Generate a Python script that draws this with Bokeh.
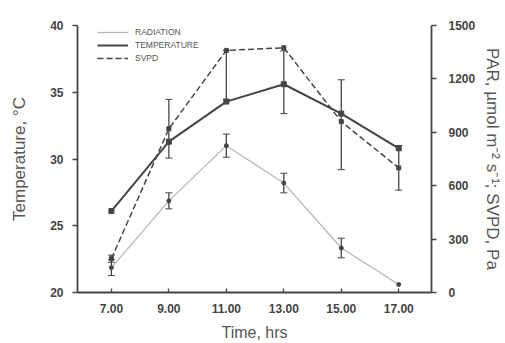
from bokeh.plotting import figure
from bokeh.models import (Range1d, LinearAxis, FixedTicker, ColumnDataSource,
                          Whisker, Legend, LegendItem)
from bokeh.embed import file_html
from bokeh.resources import INLINE

# ---- data ----
time_labels = ["7.00", "9.00", "11.00", "13.00", "15.00", "17.00"]
temperature = [26.1, 31.3, 34.3, 35.6, 33.4, 30.8]          # deg C, left axis
temp_lo = [26.1, 31.3, 34.3, 33.4, 33.4, 30.8]
temp_hi = [26.1, 31.3, 34.3, 38.1, 33.4, 30.8]
svpd = [190, 920, 1360, 1375, 960, 700]                      # Pa, right axis
svpd_lo = [170, 755, 1085, 1375, 690, 575]
svpd_hi = [210, 1085, 1360, 1375, 1195, 825]
par = [140, 515, 825, 615, 250, 45]                          # umol m-2 s-1, right axis
par_lo = [95, 470, 760, 560, 195, 45]
par_hi = [185, 560, 890, 670, 305, 45]
left_ticks = [20, 25, 30, 35, 40]
right_ticks = [0, 300, 600, 900, 1200, 1500]

x = list(range(len(time_labels)))

TXT = "#555555"
TICKTXT = "#444444"
DARK = "#454545"
LIGHT = "#b4b4b4"
FONT = "Liberation Sans"

XR = (-0.59, 5.57)
YR = (20, 40)

p = figure(width=505, height=343, output_backend="svg", toolbar_location=None,
           x_range=Range1d(*XR), y_range=Range1d(*YR),
           min_border_left=77, min_border_right=73, min_border_top=25,
           min_border_bottom=51, background_fill_color="white",
           border_fill_color="white", outline_line_color=None)
p.extra_y_ranges = {"right": Range1d(0, 1500)}

p.xgrid.visible = False
p.ygrid.visible = False


def style_axis(ax):
    ax.axis_line_color = DARK
    ax.axis_line_width = 1.8
    ax.major_tick_line_color = DARK
    ax.major_tick_line_width = 1.3
    ax.minor_tick_line_color = None
    ax.major_label_text_font = FONT
    ax.major_label_text_font_size = "12px"
    ax.major_label_text_font_style = "bold"
    ax.major_label_text_color = TICKTXT
    ax.axis_label_text_font = FONT
    ax.axis_label_text_font_style = "normal"
    ax.axis_label_text_color = TXT


style_axis(p.xaxis[0])
style_axis(p.yaxis[0])

p.xaxis.ticker = FixedTicker(ticks=x)
p.xaxis.major_label_overrides = {i: t for i, t in enumerate(time_labels)}
p.xaxis.major_tick_in = 4
p.xaxis.major_tick_out = 0
p.xaxis.major_label_standoff = 11
p.xaxis.axis_label = "Time, hrs"
p.xaxis.axis_label_text_font_size = "16px"
p.xaxis.axis_label_standoff = 8

p.yaxis.ticker = FixedTicker(ticks=left_ticks)
p.yaxis.major_tick_in = 0
p.yaxis.major_tick_out = 5
p.yaxis.major_label_standoff = 9
p.yaxis.axis_label = "Temperature, \u00b0C"
p.yaxis.axis_label_text_font_size = "17px"
p.yaxis.axis_label_standoff = 18

ra = LinearAxis(y_range_name="right", ticker=FixedTicker(ticks=right_ticks),
                axis_label="PAR, \u00b5mol m\u207b\u00b2 s\u207b\u00b9; SVPD, Pa")
style_axis(ra)
ra.major_tick_in = 0
ra.major_tick_out = 5
ra.major_label_standoff = 12
ra.axis_label_text_font_size = "17px"
ra.axis_label_standoff = 5
p.add_layout(ra, "right")

# ---- series ----
r_par = p.line(x, par, y_range_name="right", line_color=LIGHT, line_width=1.2)
p.scatter(x, par, y_range_name="right", marker="circle", size=4, color=DARK)

r_temp = p.line(x, temperature, line_color=DARK, line_width=2)
p.scatter(x, temperature, marker="square", size=5, color=DARK)

r_svpd = p.line(x, svpd, y_range_name="right", line_color=DARK, line_width=1.5,
                line_dash="6 3")
p.scatter(x, svpd, y_range_name="right", marker="square", size=4, color=DARK)


def add_err(lo, hi, rng=None):
    xs = [xi for xi, a, b in zip(x, lo, hi) if b > a]
    los = [a for a, b in zip(lo, hi) if b > a]
    his = [b for a, b in zip(lo, hi) if b > a]
    src = ColumnDataSource(dict(x=xs, lo=los, hi=his))
    w = Whisker(base="x", lower="lo", upper="hi", source=src, line_color=DARK,
                line_width=1.3, dimension="height")
    w.upper_head.size = 7
    w.lower_head.size = 7
    w.upper_head.line_color = DARK
    w.lower_head.line_color = DARK
    if rng:
        w.y_range_name = rng
    p.add_layout(w)


add_err(temp_lo, temp_hi)
add_err(svpd_lo, svpd_hi, "right")
add_err(par_lo, par_hi, "right")

legend = Legend(items=[LegendItem(label="RADIATION", renderers=[r_par]),
                       LegendItem(label="TEMPERATURE", renderers=[r_temp]),
                       LegendItem(label="SVPD", renderers=[r_svpd])],
                location=(20, 229), border_line_color=None,
                background_fill_alpha=0, label_text_font=FONT,
                label_text_font_size="8.5px", label_text_color=TXT,
                glyph_width=31, glyph_height=10, label_height=10,
                spacing=3, padding=0, label_standoff=7, margin=0)
p.add_layout(legend, "center")

open("out.html", "w").write(file_html(p, INLINE))
